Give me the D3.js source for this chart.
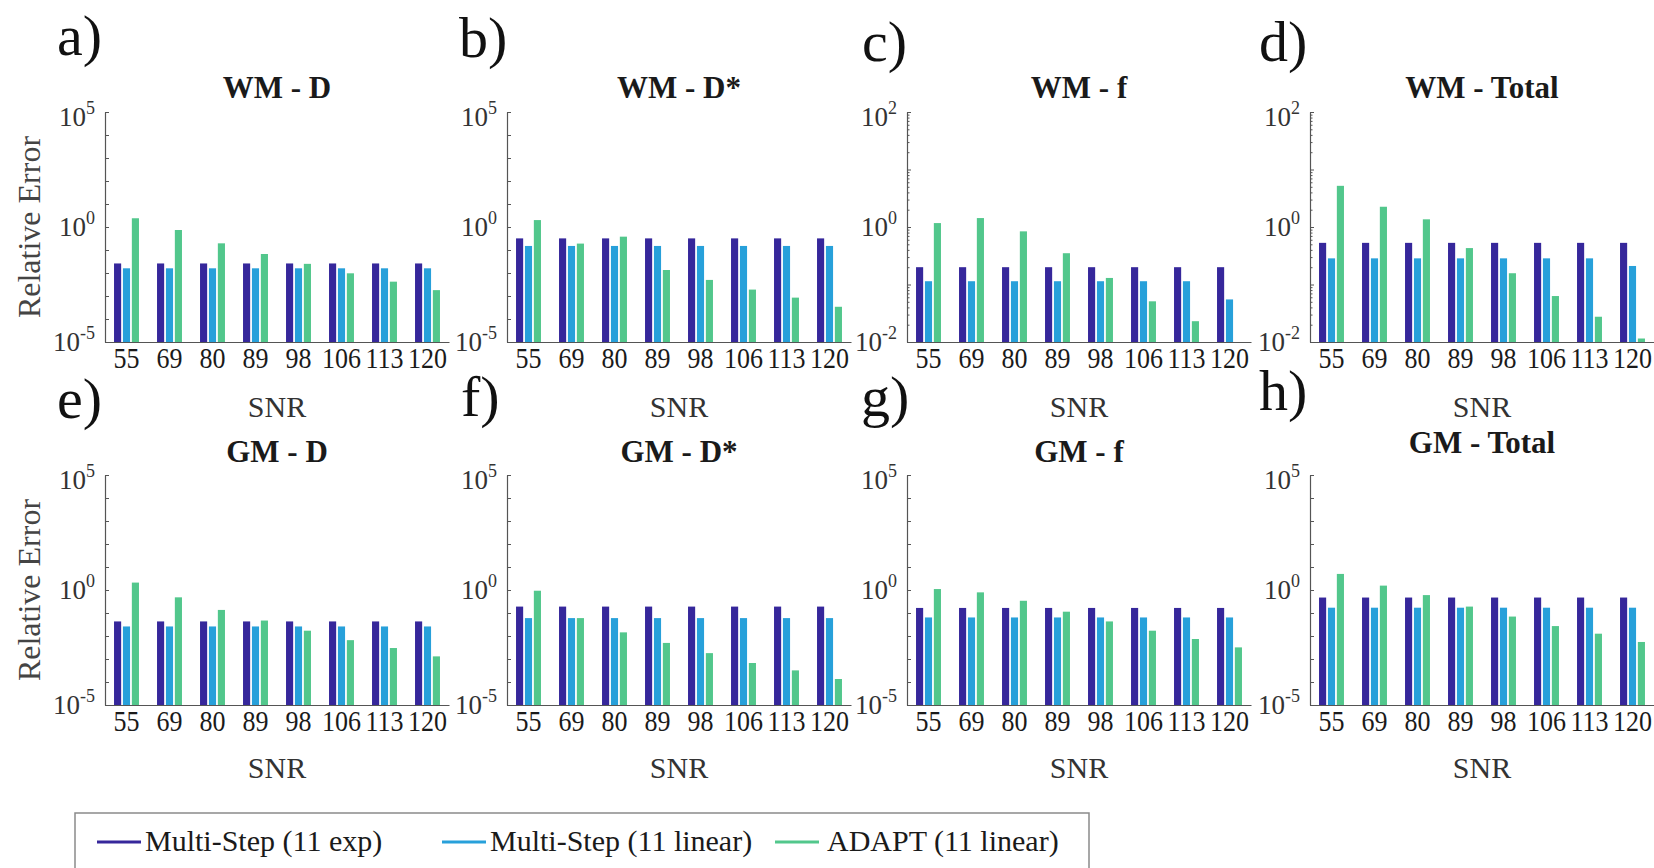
<!DOCTYPE html>
<html>
<head>
<meta charset="utf-8">
<script src="https://cdn.jsdelivr.net/npm/d3@7"></script>
<style>
  body { margin: 0; background: #fff; }
  text { font-family: "Liberation Serif", "Times New Roman", serif; fill: #1a1a1a; }
</style>
</head>
<body>
<svg id="chart" width="1654" height="868"></svg>
<script>
// ---- data ----------------------------------------------------------------
const snrLabels = ["55", "69", "80", "89", "98", "106", "113", "120"];
const seriesNames = ["Multi-Step (11 exp)", "Multi-Step (11 linear)", "ADAPT (11 linear)"];
const panelLetters = ["a)", "b)", "c)", "d)", "e)", "f)", "g)", "h)"];
const panelTitles = ["WM - D", "WM - D*", "WM - f", "WM - Total",
                     "GM - D", "GM - D*", "GM - f", "GM - Total"];
// y-axis limits as decade exponents
const yExponents = [[-5, 5], [-5, 5], [-2, 2], [-2, 2],
                    [-5, 5], [-5, 5], [-5, 5], [-5, 5]];

// relative error per SNR level
const wmD_exp     = [0.026, 0.026, 0.026, 0.026, 0.026, 0.026, 0.026, 0.026];
const wmD_lin     = [0.016, 0.016, 0.016, 0.016, 0.016, 0.016, 0.016, 0.016];
const wmD_adapt   = [2.4, 0.74, 0.195, 0.067, 0.025, 0.0097, 0.0042, 0.0018];

const wmDs_exp    = [0.32, 0.32, 0.32, 0.32, 0.32, 0.32, 0.32, 0.32];
const wmDs_lin    = [0.15, 0.15, 0.15, 0.15, 0.15, 0.15, 0.15, 0.15];
const wmDs_adapt  = [2.0, 0.19, 0.38, 0.0135, 0.005, 0.0019, 0.00085, 0.00034];

const wmF_exp     = [0.20, 0.20, 0.20, 0.20, 0.20, 0.20, 0.20, 0.20];
const wmF_lin     = [0.114, 0.114, 0.114, 0.114, 0.114, 0.114, 0.114, 0.055];
const wmF_adapt   = [1.17, 1.43, 0.84, 0.35, 0.13, 0.051, 0.023, null];

const wmTot_exp   = [0.53, 0.53, 0.53, 0.53, 0.53, 0.53, 0.53, 0.53];
const wmTot_lin   = [0.285, 0.285, 0.285, 0.285, 0.285, 0.285, 0.285, 0.21];
const wmTot_adapt = [5.2, 2.25, 1.36, 0.43, 0.157, 0.063, 0.0275, 0.0115];

const gmD_exp     = [0.043, 0.043, 0.043, 0.043, 0.043, 0.043, 0.043, 0.043];
const gmD_lin     = [0.026, 0.026, 0.026, 0.026, 0.026, 0.026, 0.026, 0.026];
const gmD_adapt   = [2.1, 0.48, 0.136, 0.047, 0.017, 0.0066, 0.003, 0.0013];

const gmDs_exp    = [0.19, 0.19, 0.19, 0.19, 0.19, 0.19, 0.19, 0.19];
const gmDs_lin    = [0.06, 0.06, 0.06, 0.06, 0.06, 0.06, 0.06, 0.06];
const gmDs_adapt  = [0.93, 0.06, 0.0144, 0.005, 0.0018, 0.00067, 0.00032, 0.000135];

const gmF_exp     = [0.166, 0.166, 0.166, 0.166, 0.166, 0.166, 0.166, 0.166];
const gmF_lin     = [0.064, 0.064, 0.064, 0.064, 0.064, 0.064, 0.064, 0.064];
const gmF_adapt   = [1.1, 0.79, 0.34, 0.114, 0.043, 0.017, 0.0074, 0.0032];

const gmTot_exp   = [0.47, 0.47, 0.47, 0.47, 0.47, 0.47, 0.47, 0.47];
const gmTot_lin   = [0.17, 0.17, 0.17, 0.17, 0.17, 0.17, 0.17, 0.17];
const gmTot_adapt = [5.0, 1.55, 0.6, 0.19, 0.07, 0.027, 0.0126, 0.0055];

const panelSeries = [
  [wmD_exp, wmD_lin, wmD_adapt], [wmDs_exp, wmDs_lin, wmDs_adapt],
  [wmF_exp, wmF_lin, wmF_adapt], [wmTot_exp, wmTot_lin, wmTot_adapt],
  [gmD_exp, gmD_lin, gmD_adapt], [gmDs_exp, gmDs_lin, gmDs_adapt],
  [gmF_exp, gmF_lin, gmF_adapt], [gmTot_exp, gmTot_lin, gmTot_adapt]
];

// ---- style & layout --------------------------------------------------------
const seriesColors = ["#36279b", "#27a0da", "#52c78c"];
const axisColor = "#555";
const serif = '"Liberation Serif", "Times New Roman", serif';

const colX = [105, 507, 907, 1310];
const rowY = [112, 475];
const plotW = 344, plotH = 230;
const titleOffset = [-14, -14, -14, -14, -13, -13, -13, -22];
const letterPos = [[57, 55], [459, 57], [862, 61], [1259, 61],
                   [57, 418], [461, 416], [861, 416], [1259, 410]];

const svg = d3.select("#chart");

panelSeries.forEach((series, i) => {
  const col = i % 4, row = Math.floor(i / 4);
  const g = svg.append("g").attr("transform", `translate(${colX[col]},${rowY[row]})`);

  const x = d3.scaleBand().domain(snrLabels).range([0, plotW])
    .paddingInner(0.337).paddingOuter(0.1685);
  const xs = d3.scaleBand().domain([0, 1, 2]).range([0, x.bandwidth()]).padding(0.2);
  const [lo, hi] = yExponents[i];
  const y = d3.scaleLog().domain([10 ** lo, 10 ** hi]).range([plotH, 0]).clamp(true);

  // bars
  series.forEach((vals, k) => {
    g.append("g").selectAll("rect")
      .data(vals.map((v, j) => ({ v, s: snrLabels[j] })).filter(d => d.v != null))
      .join("rect")
      .attr("x", d => x(d.s) + xs(k))
      .attr("width", xs.bandwidth())
      .attr("y", d => y(d.v))
      .attr("height", d => plotH - y(d.v))
      .attr("fill", seriesColors[k]);
  });

  // y axis: decade ticks, plus 2..9 minor ticks on the narrow-range axes
  const decades = d3.range(lo, hi + 1).map(e => 10 ** e);
  const yAxis = g.append("g").call(
    d3.axisLeft(y).tickValues(decades).tickSize(-4).tickSizeOuter(0).tickFormat(() => ""));
  if (hi - lo <= 4) {
    const minors = [];
    for (let e = lo; e < hi; e++) for (let m = 2; m <= 9; m++) minors.push(m * 10 ** e);
    g.append("g").call(
      d3.axisLeft(y).tickValues(minors).tickSize(-2.5).tickFormat(() => ""))
      .select(".domain").remove();
  }
  g.selectAll(".tick line").attr("stroke", axisColor);
  yAxis.select(".domain").attr("stroke", axisColor).attr("stroke-width", 1.2);

  // labelled decades: bottom, 10^0, top
  [lo, 0, hi].forEach((e, idx) => {
    const t = g.append("text")
      .attr("x", -10)
      .attr("y", y(10 ** e) + (idx === 2 ? 5 : 0))
      .attr("dy", "0.35em")
      .attr("text-anchor", "end")
      .style("font-size", "27px")
      .style("fill", "#333");
    t.append("tspan").text("10");
    t.append("tspan").attr("dy", -12).style("font-size", "18px").text(String(e));
  });

  // x axis (labels drawn slightly tall, as in the condensed face of the figure)
  const xAxis = g.append("g").attr("transform", `translate(0,${plotH})`)
    .call(d3.axisBottom(x).tickSize(0).tickPadding(4));
  xAxis.select(".domain").attr("stroke", axisColor).attr("stroke-width", 1.2);
  xAxis.selectAll("text")
    .attr("transform", "scale(1,1.15)")
    .style("font-family", serif).style("font-size", "26px").style("fill", "#1a1a1a");

  // titles and labels
  g.append("text")
    .attr("x", plotW / 2).attr("y", titleOffset[i])
    .attr("text-anchor", "middle")
    .style("font-size", "31px").style("font-weight", "bold")
    .text(panelTitles[i]);

  g.append("text")
    .attr("x", plotW / 2).attr("y", row === 0 ? 305 : 303)
    .attr("text-anchor", "middle")
    .style("font-size", "30px").style("fill", "#333")
    .text("SNR");

  if (col === 0) {
    svg.append("text")
      .attr("transform", `translate(40,${rowY[row] + plotH / 2}) rotate(-90)`)
      .attr("text-anchor", "middle")
      .style("font-size", "32px").style("fill", "#444")
      .text("Relative Error");
  }

  svg.append("text")
    .attr("x", letterPos[i][0]).attr("y", letterPos[i][1])
    .style("font-size", "58px").style("fill", "#111")
    .text(panelLetters[i]);
});

// ---- legend ----------------------------------------------------------------
const legend = svg.append("g");
legend.append("rect")
  .attr("x", 75).attr("y", 813).attr("width", 1014).attr("height", 80)
  .attr("fill", "#fff").attr("stroke", "#8a8a8a").attr("stroke-width", 1.5);

const legendLineX = [97, 442, 775];
const legendTextX = [145, 490, 827];
seriesNames.forEach((name, k) => {
  legend.append("line")
    .attr("x1", legendLineX[k]).attr("x2", legendLineX[k] + 44)
    .attr("y1", 842).attr("y2", 842)
    .attr("stroke", seriesColors[k]).attr("stroke-width", 3);
  legend.append("text")
    .attr("x", legendTextX[k]).attr("y", 851)
    .style("font-size", "30px").style("fill", "#1a1a1a")
    .text(name);
});
</script>
</body>
</html>
